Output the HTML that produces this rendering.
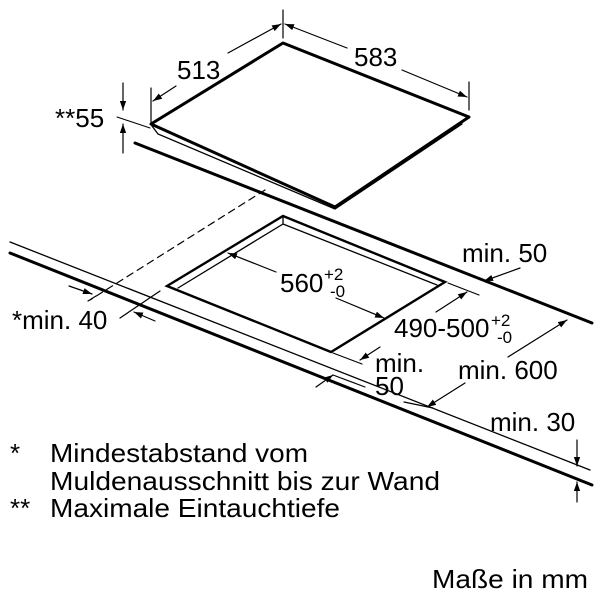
<!DOCTYPE html>
<html><head><meta charset="utf-8"><style>
html,body{margin:0;padding:0;background:#fff;}
svg{display:block;}
text{font-family:"Liberation Sans",Arial,sans-serif;fill:#000;}
</style></head><body>
<svg width="600" height="600" viewBox="0 0 600 600" xmlns="http://www.w3.org/2000/svg">
<defs>
<marker id="a" viewBox="0 0 10 10" refX="10" refY="5" markerWidth="9" markerHeight="9" orient="auto-start-reverse" markerUnits="userSpaceOnUse">
<path d="M0,1.5 L10,5 L0,8.5 Z" fill="#000"/></marker>
</defs>
<g stroke="#000" fill="none" stroke-linecap="round">
<path d="M283,43 L469,117 L335,207 L151,124 Z" stroke-width="3" stroke-linejoin="round" fill="#fff"/>
<path d="M152,126 L158,134 L335,209 L462,124" stroke-width="1.3"/>
<line x1="135" y1="143" x2="592" y2="323" stroke-width="3"/>
<line x1="117" y1="117" x2="150" y2="128" stroke-width="1"/>
<line x1="10" y1="242" x2="590" y2="470" stroke-width="1.3"/>
<line x1="10" y1="253" x2="592" y2="485" stroke-width="3"/>
<line x1="265" y1="190" x2="90" y2="300" stroke-width="1.2" stroke-dasharray="7,5"/>
<path d="M283,216 L445,282 L331,352 L167,286 Z" stroke-width="2.4" stroke-linejoin="miter"/>
<path d="M283,216 L283,224 L178,288 M283,224 L437,285" stroke-width="1.3"/>
<line x1="151" y1="88" x2="151" y2="122" stroke-width="1.2"/>
<line x1="283" y1="10" x2="283" y2="38" stroke-width="1.2"/>
<line x1="153" y1="101" x2="176" y2="86" stroke-width="1.2" marker-start="url(#a)"/>
<line x1="228" y1="53" x2="281" y2="24" stroke-width="1.2" marker-end="url(#a)"/>
<line x1="469" y1="82" x2="469" y2="110" stroke-width="1.2"/>
<line x1="285" y1="24" x2="347" y2="48" stroke-width="1.2" marker-start="url(#a)"/>
<line x1="402" y1="70" x2="467" y2="97" stroke-width="1.2" marker-end="url(#a)"/>
<line x1="123" y1="83" x2="123" y2="110" stroke-width="1.2" marker-end="url(#a)"/>
<line x1="123" y1="153" x2="123" y2="124" stroke-width="1.2" marker-end="url(#a)"/>
<line x1="228" y1="253" x2="276" y2="272" stroke-width="1.2" marker-start="url(#a)"/>
<line x1="336" y1="298" x2="384" y2="318" stroke-width="1.2" marker-end="url(#a)"/>
<line x1="448" y1="283" x2="479" y2="295" stroke-width="1.2"/>
<line x1="333" y1="353" x2="362" y2="364" stroke-width="1.2"/>
<line x1="467" y1="292" x2="436" y2="312" stroke-width="1.2" marker-start="url(#a)"/>
<line x1="360" y1="360" x2="380" y2="347" stroke-width="1.2" marker-start="url(#a)"/>
<line x1="520" y1="268" x2="484" y2="281" stroke-width="1.2" marker-end="url(#a)"/>
<line x1="316" y1="387" x2="333" y2="375" stroke-width="1.2" marker-end="url(#a)"/>
<line x1="333" y1="375" x2="365" y2="387" stroke-width="1.2"/>
<line x1="69" y1="286" x2="92" y2="294" stroke-width="1.2" marker-end="url(#a)"/>
<line x1="155" y1="321" x2="134" y2="312" stroke-width="1.2" marker-end="url(#a)"/>
<line x1="88" y1="301" x2="96" y2="296" stroke-width="1.2"/>
<line x1="120" y1="318" x2="160" y2="291" stroke-width="1.2"/>
<line x1="404" y1="402" x2="433" y2="408" stroke-width="1.2"/>
<line x1="508" y1="357" x2="567" y2="320" stroke-width="1.2" marker-end="url(#a)"/>
<line x1="465" y1="383" x2="427" y2="407" stroke-width="1.2" marker-end="url(#a)"/>
<line x1="577" y1="440" x2="577" y2="466" stroke-width="1.2" marker-end="url(#a)"/>
<line x1="577" y1="502" x2="577" y2="482" stroke-width="1.2" marker-end="url(#a)"/>
</g>
<g font-size="26">
<text x="177" y="79">513</text>
<text x="354" y="66">583</text>
<text x="55" y="127">**55</text>
<text x="280" y="292">560</text>
<text x="324" y="280" font-size="17">+2</text>
<text x="330" y="297" font-size="17">-0</text>
<text x="394" y="337">490-500</text>
<text x="491" y="326" font-size="17">+2</text>
<text x="497" y="343" font-size="17">-0</text>
<text x="462" y="262">min. 50</text>
<text x="12" y="329">*min. 40</text>
<text x="375" y="372">min.</text>
<text x="375" y="395">50</text>
<text x="458" y="379">min. 600</text>
<text x="490" y="431">min. 30</text>
<text x="10" y="462">*</text>
<text x="50" y="462" textLength="258" lengthAdjust="spacingAndGlyphs">Mindestabstand vom</text>
<text x="50" y="490" textLength="390" lengthAdjust="spacingAndGlyphs">Muldenausschnitt bis zur Wand</text>
<text x="10" y="517">**</text>
<text x="50" y="517" textLength="290" lengthAdjust="spacingAndGlyphs">Maximale Eintauchtiefe</text>
<text x="432" y="588" textLength="156" lengthAdjust="spacingAndGlyphs">Maße in mm</text>
</g>
</svg>
</body></html>
